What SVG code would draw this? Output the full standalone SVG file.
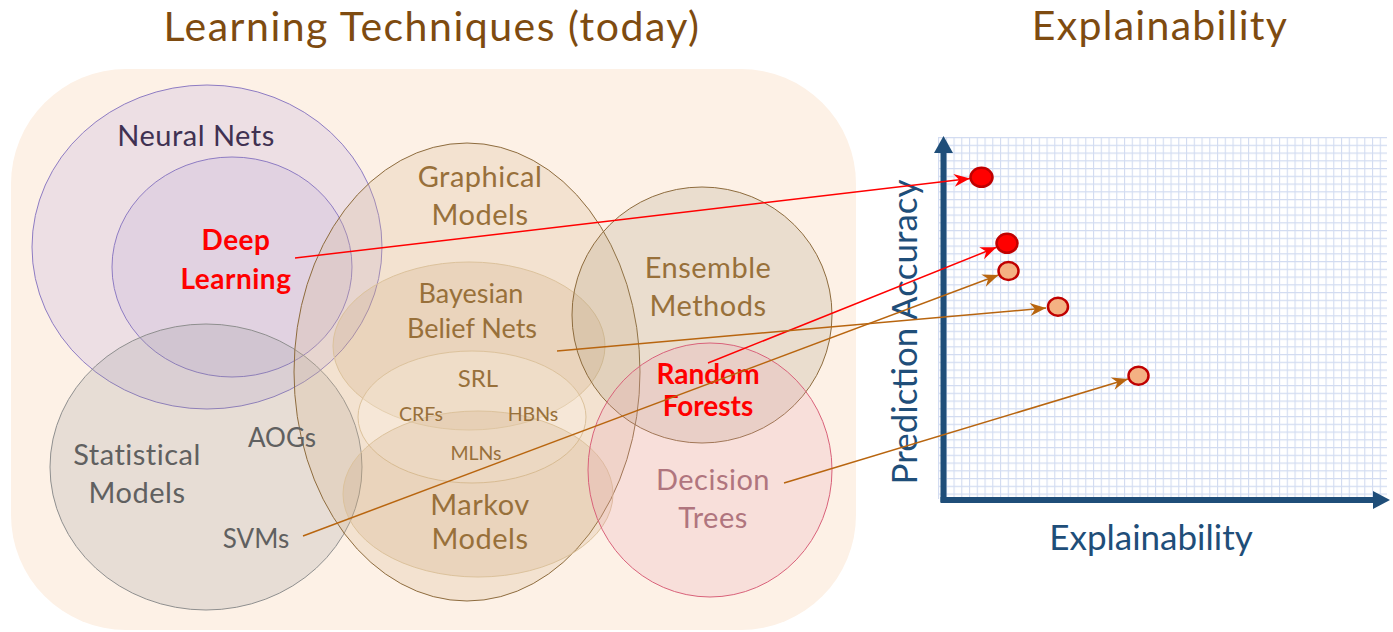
<svg xmlns="http://www.w3.org/2000/svg" width="1393" height="632" viewBox="0 0 1393 632">
  <style>
    text { font-family: Lato, "Open Sans", "Liberation Sans", sans-serif; text-anchor: middle; }
    .title { font-size: 41px; fill: #7E4B10; letter-spacing: 1.5px; }
    .lbl { font-size: 29px; letter-spacing: 0.5px; }
    .brown { fill: #98703A; }
    .bold-red { font-weight: bold; fill: #FF0000; font-size: 28px; letter-spacing: 0.5px; }
    .gray { fill: #606060; }
    .rose { fill: #B0757E; }
    .axis-lbl { fill: #1F4E79; font-size: 35px; }
    .conn-red { stroke: #FF0000; stroke-width: 1.5; fill: none; marker-end: url(#headRed); }
    .conn-brn { stroke: #B8650F; stroke-width: 1.5; fill: none; marker-end: url(#headBrn); }
    .dot-red { fill: #FF0000; stroke: #C00000; stroke-width: 2.5; }
    .dot-org { fill: #F4B183; stroke: #C00000; stroke-width: 2.5; }
  </style>
  <defs>
    <marker id="headRed" markerUnits="userSpaceOnUse" markerWidth="20" markerHeight="16" viewBox="-17 -8 18 16" refX="0" refY="0" orient="auto">
      <path d="M0,0 L-16,-6.5 L-11,0 L-16,6.5 Z" fill="#FF0000"/>
    </marker>
    <marker id="headBrn" markerUnits="userSpaceOnUse" markerWidth="20" markerHeight="16" viewBox="-17 -8 18 16" refX="0" refY="0" orient="auto">
      <path d="M0,0 L-16,-6.5 L-11,0 L-16,6.5 Z" fill="#B8650F"/>
    </marker>
    <pattern id="grid" patternUnits="userSpaceOnUse" x="938" y="137" width="7.75" height="7.75">
      <rect width="7.75" height="7.75" fill="#FFFFFF"/>
      <path d="M0,0 V7.75 M0,0 H7.75" stroke="#D2DCF1" stroke-width="2.2" fill="none"/>
    </pattern>
  </defs>

  <!-- headings -->
  <text class="title" x="432" y="41">Learning Techniques (today)</text>
  <text class="title" x="1160" y="40" style="letter-spacing:1.3px">Explainability</text>

  <!-- pale backdrop holding the technique sets -->
  <rect x="11" y="69" width="845" height="561" rx="115" ry="115" fill="#FDF1E6"/>

  <g id="neural-nets">
    <ellipse cx="207" cy="247" rx="175" ry="162" fill="#B4A0E0" fill-opacity="0.22" stroke="#8E7CC3" stroke-width="1"/>
    <text class="lbl" x="196" y="146" fill="#403152">Neural Nets</text>
  </g>
  <g id="deep-learning">
    <ellipse cx="232" cy="267" rx="120" ry="110" fill="#B4A0D8" fill-opacity="0.2" stroke="#8E7CC3" stroke-width="1"/>
  </g>
  <g id="statistical-models">
    <ellipse cx="206" cy="467" rx="156" ry="143" fill="#909090" fill-opacity="0.2" stroke="#8F8F8F" stroke-width="1"/>
  </g>
  <g id="graphical-models">
    <ellipse cx="467" cy="372" rx="173" ry="229" fill="#D8B890" fill-opacity="0.25" stroke="#8E6C3E" stroke-width="1"/>
  </g>
  <g id="bayesian-belief-nets">
    <ellipse cx="469" cy="346" rx="136" ry="84" fill="#C8A070" fill-opacity="0.2" stroke="#DCC29C" stroke-width="1"/>
  </g>
  <g id="srl">
    <ellipse cx="472" cy="417" rx="114" ry="66" fill="#FFF6EA" fill-opacity="0.25" stroke="#DCC29C" stroke-width="1"/>
  </g>
  <g id="markov-models">
    <ellipse cx="478" cy="494" rx="135" ry="83" fill="#C8A070" fill-opacity="0.2" stroke="#DCC29C" stroke-width="1"/>
  </g>
  <g id="ensemble-methods">
    <ellipse cx="702" cy="315" rx="130" ry="128" fill="#A09070" fill-opacity="0.2" stroke="#8E6C3E" stroke-width="1"/>
  </g>
  <g id="decision-trees">
    <ellipse cx="710" cy="470" rx="122" ry="127" fill="#E8A0B0" fill-opacity="0.22" stroke="#D9627A" stroke-width="1"/>
  </g>

  <!-- labels on top of the overlapping sets -->
  <g id="labels">
    <text class="bold-red" x="236" y="250">Deep</text>
    <text class="bold-red" x="236" y="289">Learning</text>
    <text class="lbl brown" x="480" y="187">Graphical</text>
    <text class="lbl brown" x="480" y="225">Models</text>
    <text class="brown" x="471" y="303" font-size="27">Bayesian</text>
    <text class="brown" x="472" y="338" font-size="27">Belief Nets</text>
    <text class="brown" x="478" y="387" font-size="24">SRL</text>
    <text class="brown" x="421" y="421" font-size="19.5">CRFs</text>
    <text class="brown" x="533" y="421" font-size="19.5">HBNs</text>
    <text class="brown" x="476" y="460" font-size="19.5">MLNs</text>
    <text class="lbl brown" x="480" y="515">Markov</text>
    <text class="lbl brown" x="480" y="549">Models</text>
    <text class="lbl brown" x="708" y="278">Ensemble</text>
    <text class="lbl brown" x="708" y="316">Methods</text>
    <text class="bold-red" x="708" y="384" font-size="25" style="letter-spacing:0">Random</text>
    <text class="bold-red" x="708" y="416" font-size="25" style="letter-spacing:0">Forests</text>
    <text class="lbl rose" x="713" y="490">Decision</text>
    <text class="lbl rose" x="713" y="528">Trees</text>
    <text class="lbl gray" x="137" y="465">Statistical</text>
    <text class="lbl gray" x="137" y="503">Models</text>
    <text class="gray" x="282" y="447" font-size="26">AOGs</text>
    <text class="gray" x="256" y="548" font-size="26">SVMs</text>
  </g>

  <!-- explainability chart -->
  <g id="chart">
    <rect x="938" y="137" width="449" height="362" fill="url(#grid)"/>
    <line x1="943.5" y1="502" x2="943.5" y2="150" stroke="#1F4E79" stroke-width="6"/>
    <path d="M943.5,136 L953,153 L934,153 Z" fill="#1F4E79"/>
    <line x1="940.5" y1="500" x2="1375" y2="500" stroke="#1F4E79" stroke-width="6"/>
    <path d="M1390,500 L1373,491 L1373,509 Z" fill="#1F4E79"/>
    <text class="axis-lbl" x="1151" y="550">Explainability</text>
    <text class="axis-lbl" x="0" y="0" font-size="36" transform="translate(917,332) rotate(-90)">Prediction Accuracy</text>
  </g>

  <g id="connectors">
    <line class="conn-red" x1="295" y1="258" x2="970" y2="178.5"/>
    <line class="conn-red" x1="708" y1="363" x2="996.5" y2="247.3"/>
    <line class="conn-brn" x1="303" y1="536" x2="998.5" y2="275"/>
    <line class="conn-brn" x1="557" y1="351" x2="1046" y2="308"/>
    <line class="conn-brn" x1="784" y1="483" x2="1128" y2="379"/>
  </g>

  <g id="points">
    <ellipse class="dot-red" cx="981.5" cy="177.3" rx="11" ry="9.5"/>
    <ellipse class="dot-red" cx="1007" cy="243.3" rx="10.5" ry="9.5"/>
    <ellipse class="dot-org" cx="1008.5" cy="271" rx="10" ry="9"/>
    <ellipse class="dot-org" cx="1058" cy="306.7" rx="10" ry="9"/>
    <ellipse class="dot-org" cx="1138.5" cy="375.7" rx="10" ry="9"/>
  </g>
</svg>
